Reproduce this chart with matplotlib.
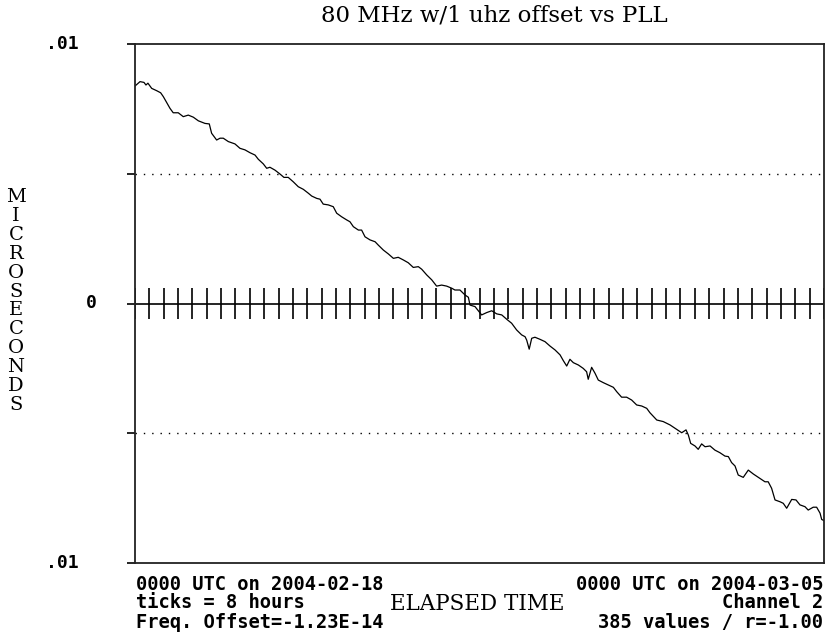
import numpy as np
import matplotlib.pyplot as plt

# hours since 0000 UTC 2004-02-18
hours = [0.0, 2.8, 5.0, 6.1, 7.2, 9.3, 12.1, 14.3, 15.8, 17.7, 19.5, 21.3, 24.1, 26.9,
         29.7, 32.5, 35.3, 39.0, 41.4, 42.7, 45.5, 47.4, 49.2, 52.0, 55.7, 58.5, 61.3,
         64.1, 66.9, 68.7, 71.5, 73.4, 75.2, 78.0, 80.8, 83.0, 85.4, 88.2, 91.0, 93.8,
         96.6, 98.5, 101.3, 103.1, 104.9, 107.7, 110.5, 112.4, 115.2, 118.0, 119.8,
         121.7, 124.5, 126.3, 128.2, 131.0, 133.8, 135.6, 138.4, 141.2, 144.0, 146.7,
         149.5, 152.3, 155.1, 157.9, 159.8, 162.6, 165.4, 168.1, 170.9, 173.7, 176.5,
         178.3, 181.1, 183.9, 185.8, 186.7, 189.5, 193.2, 196.0, 198.8, 201.6, 204.4,
         207.2, 209.9, 212.7, 215.5, 217.4, 218.3, 219.7, 221.1, 222.9, 225.7, 228.5,
         231.3, 234.1, 236.9, 238.7, 240.6, 242.4, 244.3, 247.1, 249.8, 251.7, 252.6,
         254.5, 256.4, 258.2, 261.0, 263.8, 266.6, 268.5, 271.2, 274.0, 276.8, 279.6,
         282.4, 285.2, 287.0, 290.8, 294.4, 298.2, 301.9, 304.7, 307.1, 308.4, 309.7,
         312.1, 313.9, 315.8, 317.7, 320.5, 323.2, 326.0, 328.8, 330.7, 332.5, 334.4,
         336.2, 339.0, 341.8, 344.6, 347.4, 351.1, 352.9, 354.8, 356.7, 359.5, 361.3,
         363.2, 366.0, 368.4, 370.6, 373.4, 375.2, 378.0, 379.9, 381.8, 382.7, 384.0]

offset_us = [0.00838, 0.00855, 0.00852, 0.00842, 0.00849, 0.00829, 0.00820, 0.00812,
             0.00797, 0.00774, 0.00752, 0.00735, 0.00735, 0.00720, 0.00726, 0.00718,
             0.00704, 0.00694, 0.00692, 0.00656, 0.00630, 0.00637, 0.00637, 0.00624,
             0.00615, 0.00598, 0.00592, 0.00581, 0.00572, 0.00556, 0.00538, 0.00521,
             0.00525, 0.00514, 0.00499, 0.00486, 0.00486, 0.00469, 0.00450, 0.00440,
             0.00425, 0.00414, 0.00405, 0.00402, 0.00383, 0.00380, 0.00373, 0.00348,
             0.00334, 0.00322, 0.00315, 0.00296, 0.00283, 0.00283, 0.00257, 0.00245,
             0.00238, 0.00225, 0.00206, 0.00191, 0.00174, 0.00178, 0.00168, 0.00157,
             0.00139, 0.00142, 0.00132, 0.00110, 0.00091, 0.00067, 0.00071, 0.00067,
             0.00059, 0.00052, 0.00052, 0.00033, 0.00024, -0.00006, -0.00012, -0.00044,
             -0.00035, -0.00028, -0.00040, -0.00044, -0.00061, -0.00076, -0.00102,
             -0.00121, -0.00128, -0.00141, -0.00176, -0.00134, -0.00130, -0.00138,
             -0.00147, -0.00164, -0.00179, -0.00198, -0.00220, -0.00241, -0.00215,
             -0.00228, -0.00237, -0.00250, -0.00263, -0.00292, -0.00246, -0.00269,
             -0.00295, -0.00305, -0.00314, -0.00323, -0.00340, -0.00361, -0.00361,
             -0.00372, -0.00391, -0.00395, -0.00404, -0.00421, -0.00449, -0.00455,
             -0.00468, -0.00485, -0.00498, -0.00487, -0.00507, -0.00539, -0.00549,
             -0.00562, -0.00541, -0.00552, -0.00549, -0.00565, -0.00575, -0.00588,
             -0.00590, -0.00613, -0.00626, -0.00661, -0.00670, -0.00642, -0.00657,
             -0.00670, -0.00687, -0.00687, -0.00712, -0.00757, -0.00764, -0.00770,
             -0.00789, -0.00755, -0.00757, -0.00776, -0.00783, -0.00796, -0.00785,
             -0.00785, -0.00808, -0.00832, -0.00837]

span_hours = 384
tick_hours = 8
y_lim = 0.01

fig = plt.figure(figsize=(8.3, 6.44), dpi=100)
ax = fig.add_axes([135 / 830, 81 / 644, 689 / 830, 519 / 644])

ax.plot(hours, offset_us, color='black', lw=0.9)

# zero line with 8-hour ticks
ax.axhline(0, color='black', lw=1.2)
ax.vlines(np.arange(0, span_hours + 1, tick_hours), -0.0006, 0.0006, color='black', lw=1.2)
for y in (-y_lim / 2, y_lim / 2):
    ax.axhline(y, color='black', lw=1, linestyle=(0, (1, 5)))

ax.set_xlim(0, span_hours)
ax.set_ylim(-y_lim, y_lim)
ax.set_xticks([])
ax.set_yticks([-y_lim, -y_lim / 2, 0, y_lim / 2, y_lim])
ax.set_yticklabels([])
ax.tick_params(axis='y', direction='out', length=6, width=1.2, color='black')
for s in ax.spines.values():
    s.set_linewidth(1.3)
    s.set_color('#222222')

tr = ax.get_yaxis_transform()
mono = 'DejaVu Sans Mono'
ax.text(-0.106, y_lim, '.01', transform=tr, ha='center', va='center',
        fontsize=13, family=mono, fontweight='bold')
ax.text(-0.106, -y_lim, '.01', transform=tr, ha='center', va='center',
        fontsize=13, family=mono, fontweight='bold')
ax.text(-0.064, 0, '0', transform=tr, ha='center', va='center',
        fontsize=13, family=mono, fontweight='bold')

fig.text(16 / 830, 1 - 301 / 644, '\n'.join('MICROSECONDS'), ha='center', va='center',
         fontsize=14, family='DejaVu Serif', linespacing=1.06)

fig.text(494 / 830, 1 - 16 / 644, '80 MHz w/1 uhz offset vs PLL', ha='center',
         va='center', fontsize=16.5, family='DejaVu Serif')
fig.text(477 / 830, 1 - 604 / 644, 'ELAPSED TIME', ha='center', va='center',
         fontsize=15.5, family='DejaVu Serif')

left_lines = ['0000 UTC on 2004-02-18', 'ticks = 8 hours', 'Freq. Offset=-1.23E-14']
right_lines = ['0000 UTC on 2004-03-05', 'Channel 2', '385 values / r=-1.00']
for i, (l, r) in enumerate(zip(left_lines, right_lines)):
    y = 1 - (584 + 19 * i) / 644
    fig.text(136 / 830, y, l, ha='left', va='center', fontsize=13.5,
             family=mono, fontweight='bold')
    fig.text(823 / 830, y, r, ha='right', va='center', fontsize=13.5,
             family=mono, fontweight='bold')

fig.savefig('out.png', dpi=100)
